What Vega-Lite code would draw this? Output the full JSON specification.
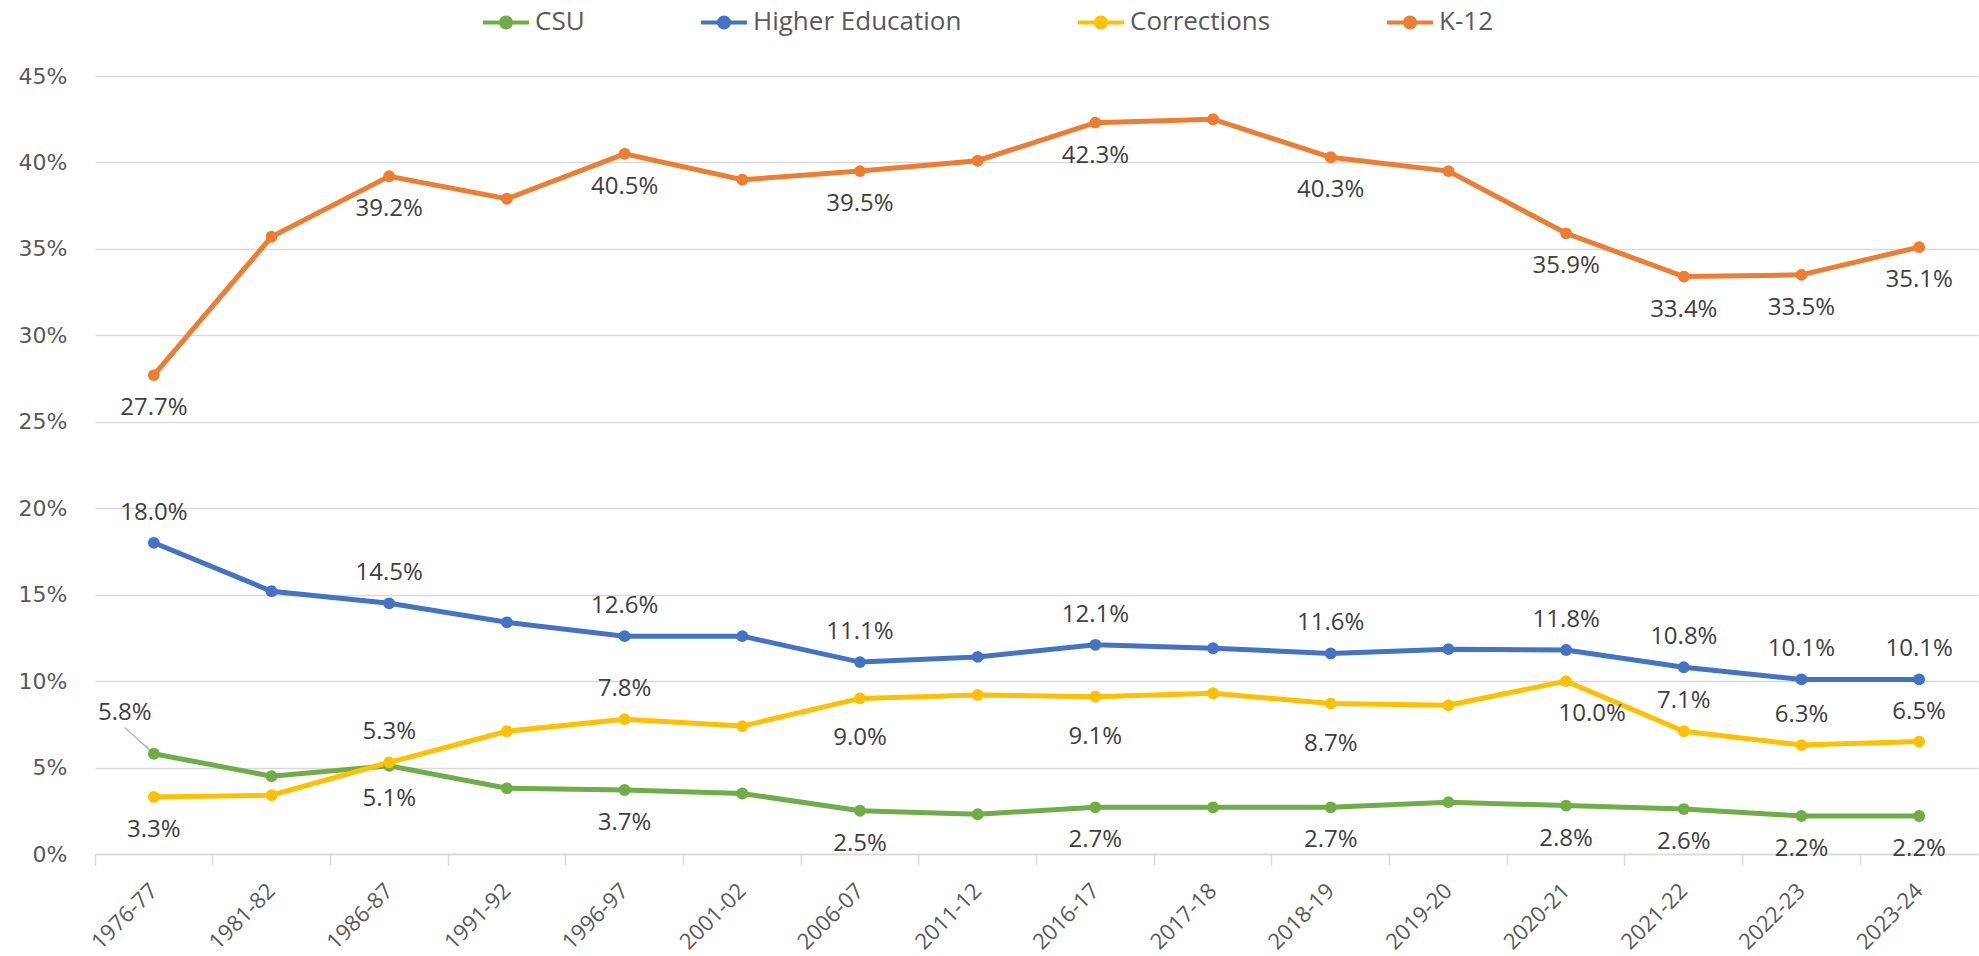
{
  "$schema": "https://vega.github.io/schema/vega-lite/v6.json",
  "autosize": {"type": "none"},
  "width": 1883,
  "height": 778,
  "padding": {"left": 95, "top": 76, "right": 1, "bottom": 102},
  "background": "white",
  "config": {"view": {"stroke": null}},
  "data": {"values": [
    {"year": "1976-77", "series": "CSU", "value": 0.058},
    {"year": "1981-82", "series": "CSU", "value": 0.045},
    {"year": "1986-87", "series": "CSU", "value": 0.051},
    {"year": "1991-92", "series": "CSU", "value": 0.038},
    {"year": "1996-97", "series": "CSU", "value": 0.037},
    {"year": "2001-02", "series": "CSU", "value": 0.035},
    {"year": "2006-07", "series": "CSU", "value": 0.025},
    {"year": "2011-12", "series": "CSU", "value": 0.023},
    {"year": "2016-17", "series": "CSU", "value": 0.027},
    {"year": "2017-18", "series": "CSU", "value": 0.027},
    {"year": "2018-19", "series": "CSU", "value": 0.027},
    {"year": "2019-20", "series": "CSU", "value": 0.030},
    {"year": "2020-21", "series": "CSU", "value": 0.028},
    {"year": "2021-22", "series": "CSU", "value": 0.026},
    {"year": "2022-23", "series": "CSU", "value": 0.022},
    {"year": "2023-24", "series": "CSU", "value": 0.022},
    {"year": "1976-77", "series": "Higher Education", "value": 0.180},
    {"year": "1981-82", "series": "Higher Education", "value": 0.152},
    {"year": "1986-87", "series": "Higher Education", "value": 0.145},
    {"year": "1991-92", "series": "Higher Education", "value": 0.134},
    {"year": "1996-97", "series": "Higher Education", "value": 0.126},
    {"year": "2001-02", "series": "Higher Education", "value": 0.126},
    {"year": "2006-07", "series": "Higher Education", "value": 0.111},
    {"year": "2011-12", "series": "Higher Education", "value": 0.114},
    {"year": "2016-17", "series": "Higher Education", "value": 0.121},
    {"year": "2017-18", "series": "Higher Education", "value": 0.119},
    {"year": "2018-19", "series": "Higher Education", "value": 0.116},
    {"year": "2019-20", "series": "Higher Education", "value": 0.1185},
    {"year": "2020-21", "series": "Higher Education", "value": 0.118},
    {"year": "2021-22", "series": "Higher Education", "value": 0.108},
    {"year": "2022-23", "series": "Higher Education", "value": 0.101},
    {"year": "2023-24", "series": "Higher Education", "value": 0.101},
    {"year": "1976-77", "series": "Corrections", "value": 0.033},
    {"year": "1981-82", "series": "Corrections", "value": 0.034},
    {"year": "1986-87", "series": "Corrections", "value": 0.053},
    {"year": "1991-92", "series": "Corrections", "value": 0.071},
    {"year": "1996-97", "series": "Corrections", "value": 0.078},
    {"year": "2001-02", "series": "Corrections", "value": 0.074},
    {"year": "2006-07", "series": "Corrections", "value": 0.090},
    {"year": "2011-12", "series": "Corrections", "value": 0.092},
    {"year": "2016-17", "series": "Corrections", "value": 0.091},
    {"year": "2017-18", "series": "Corrections", "value": 0.093},
    {"year": "2018-19", "series": "Corrections", "value": 0.087},
    {"year": "2019-20", "series": "Corrections", "value": 0.086},
    {"year": "2020-21", "series": "Corrections", "value": 0.100},
    {"year": "2021-22", "series": "Corrections", "value": 0.071},
    {"year": "2022-23", "series": "Corrections", "value": 0.063},
    {"year": "2023-24", "series": "Corrections", "value": 0.065},
    {"year": "1976-77", "series": "K-12", "value": 0.277},
    {"year": "1981-82", "series": "K-12", "value": 0.357},
    {"year": "1986-87", "series": "K-12", "value": 0.392},
    {"year": "1991-92", "series": "K-12", "value": 0.379},
    {"year": "1996-97", "series": "K-12", "value": 0.405},
    {"year": "2001-02", "series": "K-12", "value": 0.390},
    {"year": "2006-07", "series": "K-12", "value": 0.395},
    {"year": "2011-12", "series": "K-12", "value": 0.401},
    {"year": "2016-17", "series": "K-12", "value": 0.423},
    {"year": "2017-18", "series": "K-12", "value": 0.425},
    {"year": "2018-19", "series": "K-12", "value": 0.403},
    {"year": "2019-20", "series": "K-12", "value": 0.395},
    {"year": "2020-21", "series": "K-12", "value": 0.359},
    {"year": "2021-22", "series": "K-12", "value": 0.334},
    {"year": "2022-23", "series": "K-12", "value": 0.335},
    {"year": "2023-24", "series": "K-12", "value": 0.351}
  ]},
  "encoding": {
    "x": {
      "field": "year", "type": "nominal", "sort": null,
      "scale": {"type": "band", "paddingInner": 0, "paddingOuter": 0},
      "axis": {
        "title": null, "bandPosition": 0, "labelOffset": 0,
        "labelAngle": -45, "labelAlign": "right", "labelBaseline": "middle",
        "labelFont": "Open Sans", "labelFontSize": 22, "labelColor": "#595959",
        "labelPadding": 22, "tickSize": 11, "tickColor": "#d9d9d9", "tickWidth": 1.5,
        "domainColor": "#d9d9d9", "domainWidth": 1.5, "grid": false
      }
    },
    "y": {
      "field": "value", "type": "quantitative",
      "scale": {"domain": [0, 0.45], "nice": false},
      "axis": {
        "title": null, "values": [0, 0.05, 0.1, 0.15, 0.2, 0.25, 0.3, 0.35, 0.4, 0.45],
        "format": ".0%", "domain": false, "ticks": false,
        "labelFont": "DejaVu Sans", "labelFontSize": 22, "labelColor": "#595959",
        "labelPadding": 28, "gridColor": "#d9d9d9", "gridWidth": 1.5
      }
    }
  },
  "layer": [
    {
      "transform": [{"filter": "datum.series == 'CSU' && datum.year == '1976-77'"}],
      "mark": {"type": "point", "shape": "M0,0L-1,-0.9", "size": 3364, "filled": false, "stroke": "#a6a6a6", "strokeWidth": 1.2, "opacity": 1}
    },
    {
      "mark": {"type": "line", "strokeWidth": 5, "point": {"filled": true, "size": 140, "opacity": 1}},
      "encoding": {
        "color": {
          "field": "series", "type": "nominal",
          "scale": {"domain": ["CSU", "Higher Education", "Corrections", "K-12"], "range": ["#70AD47", "#4472C4", "#FFC000", "#ED7D31"]},
          "legend": {
            "title": null, "orient": "none", "direction": "horizontal", "legendX": 386, "legendY": -79,
            "columns": 4, "columnPadding": 108, "padding": 0, "labelLimit": 0,
            "symbolType": "M-1,0L1,0M-0.22,0A0.22,0.22,0,1,1,0.22,0A0.22,0.22,0,1,1,-0.22,0Z",
            "symbolSize": 2116, "symbolStrokeWidth": 4,
            "labelFont": "Open Sans", "labelFontSize": 26, "labelColor": "#595959", "labelOffset": 4,
            "encode": {"symbols": {"update": {
              "fill": {"scale": "color", "field": "value"},
              "stroke": {"scale": "color", "field": "value"},
              "strokeWidth": {"value": 4},
              "opacity": {"value": 1}
            }}}
          }
        }
      }
    },
    {
      "transform": [{"filter": "indexof(['1976-77','1986-87','1996-97','2006-07','2016-17','2018-19','2020-21','2021-22','2022-23','2023-24'], datum.year) >= 0 && (datum.series == 'K-12' || (datum.series == 'CSU' && datum.year != '1976-77') || (datum.series == 'Corrections' && datum.year == '1976-77'))"}],
      "mark": {"type": "text", "dy": 33, "font": "Open Sans", "fontSize": 24, "color": "#404040", "baseline": "middle"},
      "encoding": {"text": {"field": "value", "type": "quantitative", "format": ".1%"}}
    },
    {
      "transform": [{"filter": "datum.series == 'Corrections' && indexof(['2006-07','2016-17','2018-19'], datum.year) >= 0"}],
      "mark": {"type": "text", "dy": 40, "font": "Open Sans", "fontSize": 24, "color": "#404040", "baseline": "middle"},
      "encoding": {"text": {"field": "value", "type": "quantitative", "format": ".1%"}}
    },
    {
      "transform": [{"filter": "(datum.series == 'Higher Education' && indexof(['1976-77','1986-87','1996-97','2006-07','2016-17','2018-19','2020-21','2021-22','2022-23','2023-24'], datum.year) >= 0) || (datum.series == 'Corrections' && indexof(['1986-87','1996-97','2021-22','2022-23','2023-24'], datum.year) >= 0)"}],
      "mark": {"type": "text", "dy": -30, "font": "Open Sans", "fontSize": 24, "color": "#404040", "baseline": "middle"},
      "encoding": {"text": {"field": "value", "type": "quantitative", "format": ".1%"}}
    },
    {
      "transform": [{"filter": "datum.series == 'Corrections' && datum.year == '2020-21'"}],
      "mark": {"type": "text", "dx": 26, "dy": 33, "font": "Open Sans", "fontSize": 24, "color": "#404040", "baseline": "middle"},
      "encoding": {"text": {"field": "value", "type": "quantitative", "format": ".1%"}}
    },
    {
      "transform": [{"filter": "datum.series == 'CSU' && datum.year == '1976-77'"}],
      "mark": {"type": "text", "dx": -29, "dy": -41, "font": "Open Sans", "fontSize": 24, "color": "#404040", "baseline": "middle"},
      "encoding": {"text": {"field": "value", "type": "quantitative", "format": ".1%"}}
    }
  ]
}
